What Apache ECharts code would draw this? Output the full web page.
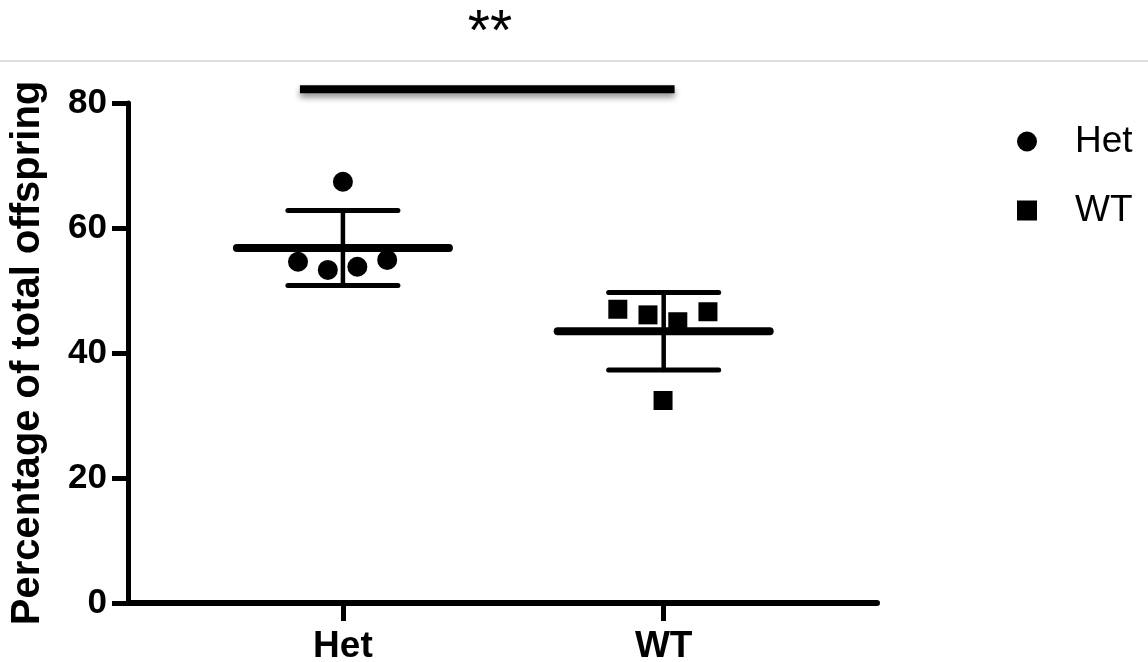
<!DOCTYPE html>
<html><head><meta charset="utf-8">
<script src="https://cdn.jsdelivr.net/npm/echarts@6/dist/echarts.min.js"></script>
<style>html,body{margin:0;padding:0;background:#fff}#c{width:1148px;height:662px}</style>
</head><body><div id="c"></div>
<script>
const groups = ['Het', 'WT'];
const groupPos = [1, 2];
const hetX = [1.0, 0.86, 0.953, 1.045, 1.138];
const hetY = [67.4, 54.6, 53.3, 53.8, 54.9];
const wtX = [1.857, 1.951, 2.044, 2.138, 1.998];
const wtY = [47.0, 46.1, 45.0, 46.6, 32.4];
const means = [56.8, 43.5];
const sds = [6.0, 6.2];
const yMin = 0, yMax = 80, yStep = 20;
const sigX = [0.866, 2.034];
const sigY = 82.2;
const sigLabel = '**';
const yName = 'Percentage of total offspring';

const FONT = '"Liberation Sans", Arial, Helvetica, sans-serif';
const chart = echarts.init(document.getElementById('c'), null, {renderer: 'canvas'});

const option = {
  backgroundColor: '#fff',
  animation: false,
  title: {
    text: sigLabel, left: 485, top: 1, textAlign: 'center',
    textStyle: {fontFamily: FONT, fontSize: 57, fontWeight: 'normal', color: '#000'}
  },
  graphic: [{
    type: 'line', shape: {x1: 0, y1: 61, x2: 1148, y2: 61},
    style: {stroke: '#dedede', lineWidth: 2}
  }],
  legend: {
    orient: 'vertical', left: 1012, top: 118,
    itemWidth: 20, itemHeight: 20, itemGap: 32,
    textStyle: {fontFamily: FONT, fontSize: 37, color: '#000', padding: [0, 0, 0, 33]},
    data: [{name: groups[0], icon: 'circle', itemStyle: {opacity: 1}}, {name: groups[1], icon: 'rect', itemStyle: {opacity: 1}}]
  },
  grid: {left: 128, right: 271, top: 103, bottom: 59, containLabel: false, outerBoundsMode: 'none'},
  xAxis: {
    type: 'value', min: 0.33, max: 2.665,
    splitLine: {show: false},
    axisLine: {show: true, lineStyle: {color: '#000', width: 6}},
    axisTick: {show: true, customValues: groupPos, length: 18, lineStyle: {color: '#000', width: 5}},
    axisLabel: {
      customValues: groupPos, margin: 25,
      formatter: v => groups[groupPos.indexOf(v)] || '',
      fontFamily: FONT, fontSize: 37, fontWeight: 'bold', color: '#000'
    }
  },
  yAxis: {
    type: 'value', min: yMin, max: yMax, interval: yStep,
    splitLine: {show: false},
    axisLine: {show: true, lineStyle: {color: '#000', width: 5}},
    axisTick: {show: true, length: 16, lineStyle: {color: '#000', width: 5}},
    axisLabel: {margin: 21, fontFamily: FONT, fontSize: 35, fontWeight: 'bold', color: '#000'},
    name: yName, nameLocation: 'middle', nameGap: 80,
    nameTextStyle: {fontFamily: FONT, fontSize: 40, fontWeight: 'bold', color: '#000'}
  },
  series: [
    {
      type: 'custom', name: 'errorbars', silent: true, z: 3,
      data: groupPos.map((p, i) => [p, means[i], sds[i]]),
      renderItem: (params, api) => {
        const x = api.value(0), m = api.value(1), s = api.value(2);
        const c = api.coord([x, m]);
        const up = api.coord([x, m + s]);
        const lo = api.coord([x, m - s]);
        const st = w => ({stroke: '#000', lineWidth: w, lineCap: 'round'});
        return {type: 'group', children: [
          {type: 'line', shape: {x1: c[0] - 106, y1: c[1], x2: c[0] + 106, y2: c[1]}, style: st(8)},
          {type: 'line', shape: {x1: c[0], y1: up[1], x2: c[0], y2: lo[1]}, style: st(4.5)},
          {type: 'line', shape: {x1: c[0] - 55, y1: up[1], x2: c[0] + 55, y2: up[1]}, style: st(5)},
          {type: 'line', shape: {x1: c[0] - 55, y1: lo[1], x2: c[0] + 55, y2: lo[1]}, style: st(5)}
        ]};
      }
    },
    {
      type: 'scatter', name: groups[0], symbol: 'circle', symbolSize: 20, z: 4,
      itemStyle: {color: '#000', opacity: 1},
      data: hetX.map((x, i) => [x, hetY[i]])
    },
    {
      type: 'scatter', name: groups[1], symbol: 'rect', symbolSize: 19, z: 4,
      itemStyle: {color: '#000', opacity: 1},
      data: wtX.map((x, i) => [x, wtY[i]])
    },
    {
      type: 'line', name: 'sig', silent: true, clip: false, symbol: 'none', z: 5,
      lineStyle: {color: '#000', width: 8, shadowBlur: 6, shadowColor: 'rgba(0,0,0,0.45)', shadowOffsetY: 4},
      data: sigX.map(x => [x, sigY])
    }
  ]
};
chart.setOption(option);
</script>
</body></html>
